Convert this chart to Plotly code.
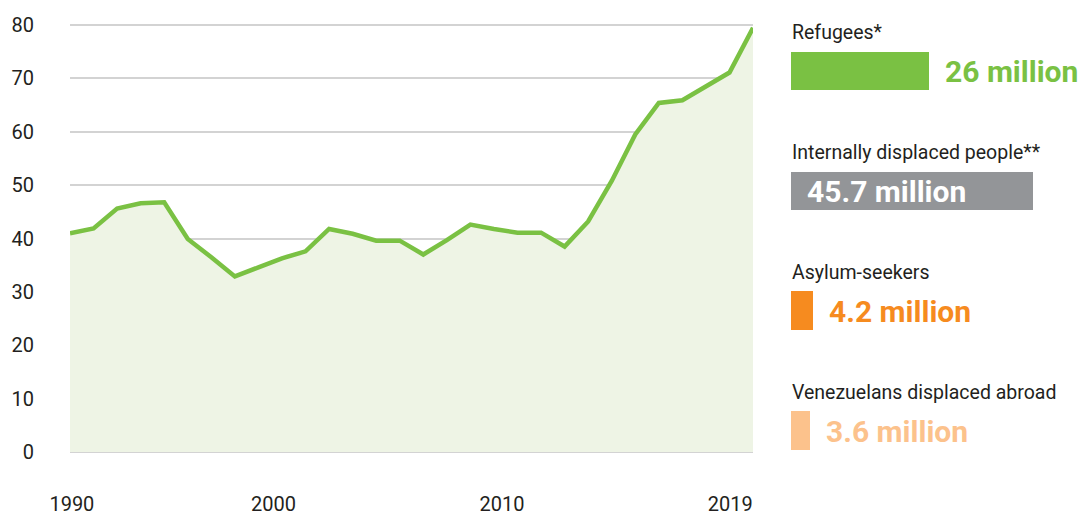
import plotly.graph_objects as go

# ---- data ----
years = list(range(1990, 2020))
displaced = [41.0, 41.9, 45.6, 46.6, 46.8, 39.9, 36.5, 32.9, 34.6, 36.3,
             37.6, 41.8, 40.9, 39.6, 39.6, 37.0, 39.7, 42.6, 41.8, 41.1,
             41.1, 38.5, 43.2, 50.8, 59.5, 65.4, 65.9, 68.5, 71.1, 79.5]

y_ticks = [0, 10, 20, 30, 40, 50, 60, 70, 80]
x_tick_labels = ["1990", "2000", "2010", "2019"]

categories = ["Refugees*", "Internally displaced people**", "Asylum-seekers",
              "Venezuelans displaced abroad"]
cat_values = [26, 45.7, 4.2, 3.6]
value_labels = ["26 million", "45.7 million", "4.2 million", "3.6 million"]

# ---- styles ----
x_tick_pos = [1990.08, 1998.64, 2008.34, 2018.03]  # where the labels sit in the picture
bar_colors = ["#7ac143", "#939598", "#f68b1f", "#fcc28c"]
label_inside = [False, True, False, False]
text_dark = "#231f20"
line_green = "#7ac143"
fill_green = "rgb(238,244,229)"
grid = "#d3d3d3"
FONT = "Roboto"

fig = go.Figure()
fig.add_trace(go.Scatter(
    x=years, y=displaced, mode="lines",
    line=dict(color=line_green, width=4.5),
    fill="tozeroy", fillcolor=fill_green,
    hoverinfo="skip", showlegend=False,
))

idx = list(range(len(categories)))
fig.add_trace(go.Bar(
    x=cat_values, y=idx, orientation="h",
    marker=dict(color=bar_colors, line=dict(width=0)),
    width=0.32, xaxis="x2", yaxis="y2",
    hoverinfo="skip", showlegend=False,
))

annotations = []
for i, (cat, val, lab, col, inside) in enumerate(
        zip(categories, cat_values, value_labels, bar_colors, label_inside)):
    annotations.append(dict(
        xref="x2", yref="y2", x=0, y=i, xanchor="left", yanchor="middle",
        yshift=38, xshift=-1, text=cat, showarrow=False,
        font=dict(family=FONT, size=19.5, color=text_dark),
    ))
    annotations.append(dict(
        xref="x2", yref="y2", x=0 if inside else val, y=i,
        xanchor="left", yanchor="middle",
        xshift=14, yshift=-1, text="<b>" + lab + "</b>", showarrow=False,
        font=dict(family=FONT, size=30, color="white" if inside else col),
    ))

# page body has an 8px margin, so the figure is sized/offset to compensate
fig.update_layout(
    width=1081, height=507,
    margin=dict(l=62, r=0, t=16, b=63, autoexpand=False),
    paper_bgcolor="white", plot_bgcolor="white",
    font=dict(family=FONT, color=text_dark),
    xaxis=dict(
        domain=[0, 0.6703], range=[1990, 2019], automargin=False,
        showgrid=False, zeroline=False, showline=False,
        tickmode="array", tickvals=x_tick_pos, ticktext=x_tick_labels,
        ticks="outside", ticklen=34, tickcolor="rgba(0,0,0,0)",
        tickfont=dict(family=FONT, size=20, color=text_dark),
        fixedrange=True,
    ),
    yaxis=dict(
        range=[0, 80.2], tickmode="array", tickvals=y_ticks, automargin=False,
        showgrid=True, gridcolor=grid, gridwidth=2,
        zeroline=True, zerolinecolor=grid, zerolinewidth=2,
        showline=False,
        ticks="outside", ticklen=31, tickcolor="rgba(0,0,0,0)",
        tickfont=dict(family=FONT, size=20, color=text_dark),
    ),
    xaxis2=dict(domain=[0.7076, 1], range=[0, 56.2], anchor="y2", visible=False),
    yaxis2=dict(domain=[0, 1], range=[3.18, -0.392], anchor="x2", visible=False),
    annotations=annotations,
    bargap=0,
)

fig.write_html("out.html")
